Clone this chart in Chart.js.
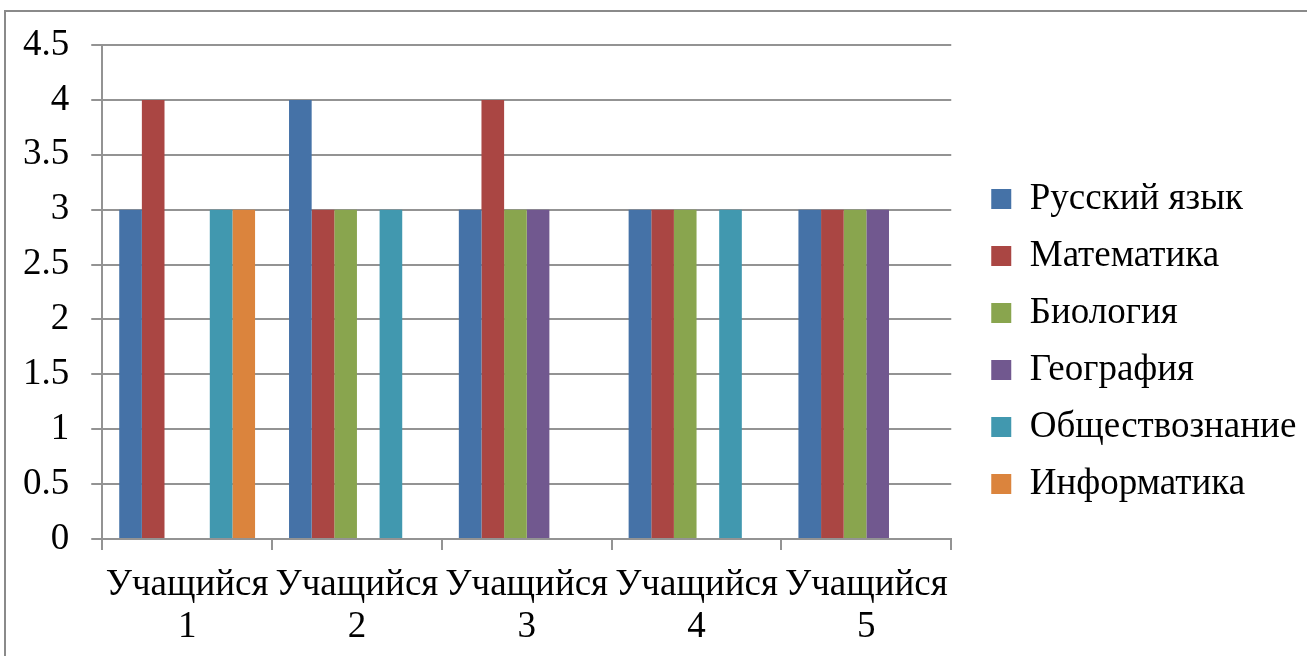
<!DOCTYPE html>
<html><head><meta charset="utf-8">
<script src="https://cdn.jsdelivr.net/npm/chart.js@4"></script>
<style>
html,body{margin:0;padding:0;background:#fff;overflow:hidden}
#wrap{position:relative;width:1307px;height:656px}
#frame{position:absolute;left:4px;top:10px;width:1400px;height:800px;border:2px solid #8a8a8a;pointer-events:none;box-sizing:border-box}
canvas{position:absolute;left:0;top:0}
</style></head><body>
<div id="wrap"><canvas id="c" width="1307" height="656"></canvas><div id="frame"></div></div>
<script>
const categories = [["Учащийся","1"],["Учащийся","2"],["Учащийся","3"],["Учащийся","4"],["Учащийся","5"]];
const seriesNames = ["Русский язык","Математика","Биология","География","Обществознание","Информатика"];
const russian     = [3, 4, 3, 3, 3];
const math        = [4, 3, 4, 3, 3];
const biology     = [null, 3, 3, 3, 3];
const geography   = [null, null, 3, null, 3];
const social      = [3, 3, null, 3, null];
const informatics = [3, null, null, null, null];
const yTicks = [0, 0.5, 1, 1.5, 2, 2.5, 3, 3.5, 4, 4.5];
const colors = ["#4572A7","#AA4643","#89A54E","#71588F","#4198AF","#DB843D"];

const seriesValues = [russian, math, biology, geography, social, informatics];
const FONT = "'Liberation Serif','Times New Roman',serif";
const GRID = "#939393";

const legendShift = {
  id: 'legendShift',
  afterLayout(chart) {
    const l = chart.legend;
    if (l) { l.left += 20; l.right = chart.width; l.top -= 12; l.bottom -= 12; }
  }
};

new Chart(document.getElementById('c'), {
  type: 'bar',
  data: {
    labels: categories,
    datasets: seriesNames.map((n, i) => ({
      label: n,
      data: seriesValues[i],
      backgroundColor: colors[i],
      borderWidth: 0,
      categoryPercentage: 0.8,
      barPercentage: 1.0
    }))
  },
  options: {
    responsive: false,
    animation: false,
    devicePixelRatio: 1,
    layout: { padding: { left: 1, right: 39, top: 45, bottom: -6 } },
    plugins: {
      tooltip: { enabled: false },
      legend: {
        position: 'right',
        labels: {
          font: { family: FONT, size: 37 },
          color: '#000',
          boxWidth: 20,
          boxHeight: 20,
          padding: 20
        }
      }
    },
    scales: {
      x: {
        grid: { drawOnChartArea: false, drawTicks: true, tickLength: 11, color: GRID, lineWidth: 2, offset: true },
        border: { display: true, color: GRID, width: 2 },
        ticks: { font: { family: FONT, size: 37, lineHeight: 1.135 }, color: '#000', padding: 14, maxRotation: 0, autoSkip: false }
      },
      y: {
        min: 0, max: 4.5,
        afterBuildTicks(scale) { scale.ticks = yTicks.map(v => ({ value: v })); },
        grid: { color: GRID, lineWidth: 2, tickLength: 11, drawTicks: true },
        border: { display: true, color: GRID, width: 2 },
        ticks: { font: { family: FONT, size: 37 }, color: '#000', padding: 22, callback: v => String(v) }
      }
    }
  },
  plugins: [legendShift]
});
</script>
</body></html>
